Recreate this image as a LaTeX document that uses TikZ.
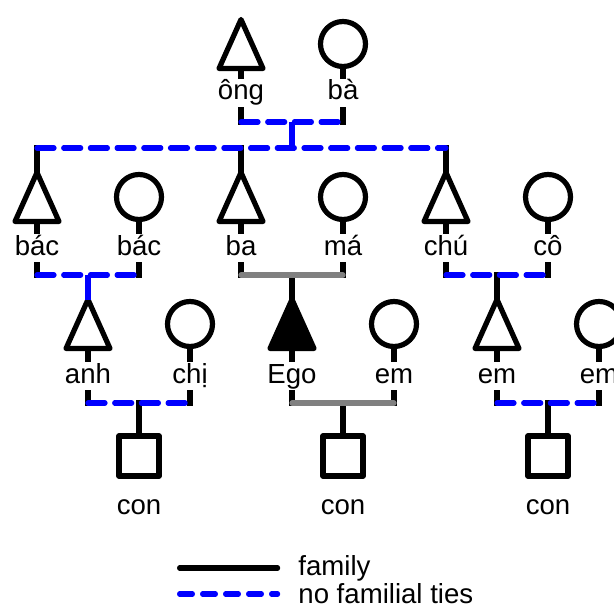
\documentclass[tikz,border=0pt]{standalone}
\usepackage{fontspec}
\setmainfont{Liberation Sans}

\tikzset{
  person/.style={inner sep=0pt, outer sep=0pt},
  male/.style={person, minimum width=22pt, minimum height=24.5pt},
  female/.style={person, circle, draw, line width=2.6pt, minimum size=22.5pt},
  child/.style={person, draw, line width=2.6pt, line join=round, minimum size=20pt},
  callname/.style={anchor=base, inner xsep=0pt, inner ysep=1pt, text height=10.5pt, text depth=3.5pt,
    font=\fontsize{13.8pt}{16pt}\selectfont},
  sym/.style={black, line width=2.6pt, line join=round},
  stem/.style={black, line width=2.6pt, line cap=rect},
  drop/.style={blue, line width=2.6pt},
  tie/.style={blue, line width=2.6pt, line cap=round, dash pattern=on 8.5pt off 4.85pt},
  kin/.style={gray, line width=2.6pt, line cap=round},
}

\begin{document}
\begin{tikzpicture}[x=0.5pt,y=-0.5pt]
\useasboundingbox (0,0) rectangle (614,609);

% grandparents
\node[male]   (ong) at (241,44) {};
\node[female] (baa) at (343,44) {};
\node[callname] (ong-l) at (241,100) {ông};
\node[callname] (baa-l) at (343,100) {bà};

% parents and uncles
\node[male]   (bac1) at (37,197) {};
\node[female] (bac2) at (139,197) {};
\node[male]   (ba)   at (241,197) {};
\node[female] (ma)   at (343,197) {};
\node[male]   (chu)  at (446,197) {};
\node[female] (co)   at (548,197) {};
\node[callname] (bac1-l) at (37,255) {bác};
\node[callname] (bac2-l) at (139,255) {bác};
\node[callname] (ba-l)   at (241,255) {ba};
\node[callname] (ma-l)   at (343,255) {má};
\node[callname] (chu-l)  at (446,255) {chú};
\node[callname] (co-l)   at (548,255) {cô};

% Ego's generation
\node[male]   (anh) at (88,324) {};
\node[female] (chi) at (190,324) {};
\node[male]   (ego) at (292,324) {};
\node[female] (em1) at (394,324) {};
\node[male]   (em2) at (497,324) {};
\node[female] (em3) at (599,324) {};
\node[callname] (anh-l) at (88,383) {anh};
\node[callname] (chi-l) at (190,383) {chị};
\node[callname] (ego-l) at (292,383) {Ego};
\node[callname] (em1-l) at (394,383) {em};
\node[callname] (em2-l) at (497,383) {em};
\node[callname] (em3-l) at (599,383) {em};

% children
\node[child] (con1) at (139,456) {};
\node[child] (con2) at (343,456) {};
\node[child] (con3) at (548,456) {};
\node[callname] (con1-l) at (139,514) {con};
\node[callname] (con2-l) at (343,514) {con};
\node[callname] (con3-l) at (548,514) {con};

\foreach \p in {ong,bac1,ba,chu,anh,em2}
  \draw[sym] (\p.south west) -- (\p.north) -- (\p.south east) -- cycle;
\filldraw[sym] (ego.south west) -- (ego.north) -- (ego.south east) -- cycle;

\coordinate (m0) at (292,122);
\coordinate (g0) at (292,148);
\coordinate (m1) at (88,275);
\coordinate (m2) at (292,275);
\coordinate (m3) at (497,275);
\coordinate (m4) at (139,403);
\coordinate (m5) at (343,403);
\coordinate (m6) at (548,403);

\foreach \p/\m in {ong/m0,baa/m0,bac1/m1,bac2/m1,ba/m2,ma/m2,chu/m3,co/m3,anh/m4,chi/m4,ego/m5,em1/m5,em2/m6,em3/m6}{
  \draw[stem] (\p.south) -- (\p-l.north);
  \draw[stem] (\p-l.south) -- (\p-l.south |- \m);
}

\draw[stem] (bac1 |- g0) -- (bac1.north);
\draw[stem] (ba |- g0) -- (ba.north);
\draw[stem] (chu |- g0) -- (chu.north);
\draw[stem] (m2) -- (ego.north);
\draw[stem] (m3) -- (em2.north);
\draw[stem] (m4) -- (con1.north);
\draw[stem] (m5) -- (con2.north);
\draw[stem] (m6) -- (con3.north);

\draw[drop] (m0) -- (g0);
\draw[drop] (m1) -- (anh.north);

\draw[tie] (ong-l.south |- m0) -- (baa-l.south |- m0);
\draw[tie] (bac1 |- g0) -- (chu |- g0);
\draw[tie] (bac1-l.south |- m1) -- (bac2-l.south |- m1);
\draw[kin] (ba-l.south |- m2) -- (ma-l.south |- m2);
\draw[tie] (chu-l.south |- m3) -- (co-l.south |- m3);
\draw[tie] (anh-l.south |- m4) -- (chi-l.south |- m4);
\draw[kin] (ego-l.south |- m5) -- (em1-l.south |- m5);
\draw[tie] (em2-l.south |- m6) -- (em3-l.south |- m6);

% legend
\node[callname, anchor=base west] (fam) at (298,575) {family};
\node[callname, anchor=base west] (nof) at (298,603) {no familial ties};
\coordinate (k1) at (179.6,568);
\coordinate (k2) at (179.6,594);
\draw[stem, line cap=round] (k1) -- ++(98,0);
\draw[tie, dash pattern=on 6.4pt off 5.1pt] (k2) -- ++(98,0);

\end{tikzpicture}
\end{document}
